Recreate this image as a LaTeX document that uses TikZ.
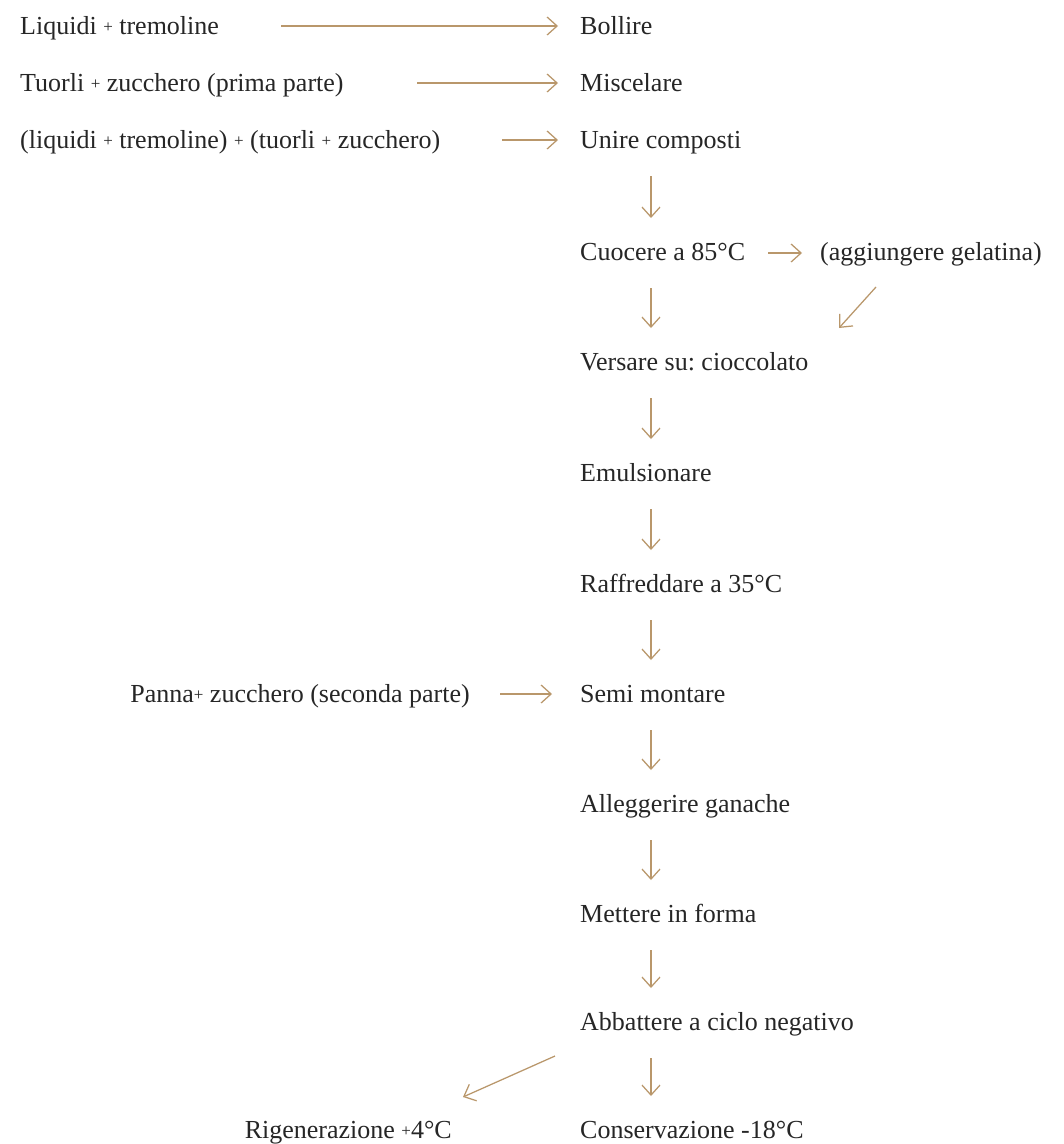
\documentclass[tikz,border=0pt]{standalone}
\usepackage{fontspec}
\setmainfont{Liberation Serif}
\usetikzlibrary{arrows.meta,calc}
\definecolor{ink}{HTML}{262626}
\definecolor{tan}{HTML}{B9976B}
\newcommand\smallplus{\raisebox{1.5pt}{\fontsize{17}{17}\selectfont +}}
\frenchspacing
\begin{document}
\begin{tikzpicture}[x=1pt,y=-1pt,
  lbl/.style={inner sep=0pt,text=ink,font=\fontsize{26}{30}\selectfont},
  lw/.style={lbl,anchor=base west},
  le/.style={lbl,anchor=base east},
  arr/.style={draw=tan,line width=1.25pt,-{Straight Barb[length=10pt,width=18pt,line width=1.25pt]}}]
\useasboundingbox[fill=white] (0,0) rectangle (1064,1144);
% left column
\node[lw] (l1) at (20,34) {Liquidi \smallplus{} tremoline};
\node[lw] (l2) at (20,91) {Tuorli \smallplus{} zucchero (prima parte)};
\node[lw] (l3) at (20,148) {(liquidi \smallplus{} tremoline) \smallplus{} (tuorli \smallplus{} zucchero)};
\node[le] (p) at (470,702) {Panna\smallplus{} zucchero (seconda parte)};
\node[le] (rg) at (452,1138) {Rigenerazione \smallplus4°C};
% main column
\node[lw] (b) at (580,34) {Bollire};
\node[lw] (m) at (580,91) {Miscelare};
\node[lw] (u) at (580,148) {Unire composti};
\node[lw] (c) at (580,260) {Cuocere a 85°C};
\node[lw] (g) at (820,260) {(aggiungere gelatina)};
\node[lw] (v) at (580,370) {Versare su: cioccolato};
\node[lw] (e) at (580,481) {Emulsionare};
\node[lw] (r) at (580,592) {Raffreddare a 35°C};
\node[lw] (s) at (580,702) {Semi montare};
\node[lw] (a) at (580,812) {Alleggerire ganache};
\node[lw] (f) at (580,922) {Mettere in forma};
\node[lw] (ab) at (580,1030) {Abbattere a ciclo negativo};
\node[lw] (cs) at (580,1138) {Conservazione -18°C};
% horizontal arrows
\draw[arr] ($(b.base west)+(-299,-8)$) -- ($(b.base west)+(-22,-8)$);
\draw[arr] ($(m.base west)+(-163,-8)$) -- ($(m.base west)+(-22,-8)$);
\draw[arr] ($(u.base west)+(-78,-8)$) -- ($(u.base west)+(-22,-8)$);
\draw[arr] ($(s.base west)+(-80,-8)$) -- ($(s.base west)+(-28,-8)$);
\draw[arr] ($(g.base west)+(-52,-7)$) -- ($(g.base west)+(-18,-7)$);
% vertical arrows
\foreach \x/\y in {u/c,c/v,v/e,e/r,r/s,s/a,a/f,f/ab,ab/cs}
  \draw[arr] ($(\x.base west)+(71,28)$) -- ($(\y.base west)+(71,-42)$);
% diagonal arrows
\draw[arr] ($(g.base west)+(56,27)$) -- ($(v.base west)+(259,-42)$);
\draw[arr] ($(ab.base west)+(-25,26)$) -- ($(rg.base east)+(11,-41)$);
\end{tikzpicture}
\end{document}
